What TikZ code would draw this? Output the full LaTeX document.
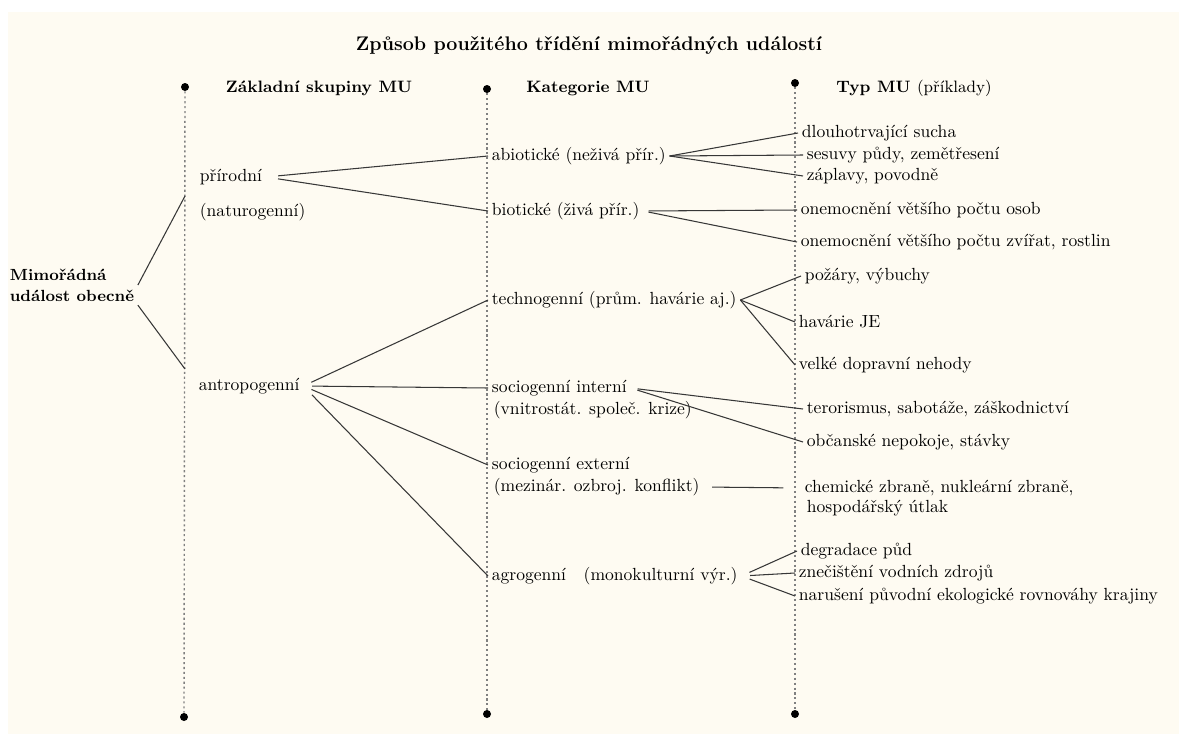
\documentclass[tikz,border=0pt]{standalone}
\usepackage{tikz}
\usetikzlibrary{positioning}
\definecolor{paper}{RGB}{254,251,242}
\definecolor{ink}{RGB}{55,55,55}

\tikzset{
	txt/.style={draw=none, anchor=west, inner sep=2pt, font=\fontsize{10}{12}\selectfont},
	head/.style={draw=none, font=\fontsize{9.4}{11}\selectfont\bfseries},
	dotend/.style={draw=none, circle, fill=black, inner sep=0pt, minimum size=0.16cm},
	axis/.style={draw=gray, dash pattern=on 1.2pt off 1.6pt, line width=0.8pt},
	link/.style={draw=ink, line width=0.6pt},
	gap/.style={shorten <=#1}
}

\begin{document}
\begin{tikzpicture}[x=0.02cm, y=-0.02cm]
	\useasboundingbox (0, 0) rectangle (1179, 734);
	\fill [white] (0, 0) rectangle (1179, 734);
	\fill [paper] (8, 12) rectangle (1179, 734);

	\node [draw=none, font=\fontsize{11.2}{13}\selectfont\bfseries] (title) at (589, 45) {Způsob použitého třídění mimořádných událostí};

	\node [dotend] (T1) at (185, 87) {};
	\node [dotend] (B1) at (184, 717) {};
	\node [dotend] (T2) at (487, 89) {};
	\node [dotend] (B2) at (487, 714) {};
	\node [dotend] (T3) at (795, 83) {};
	\node [dotend] (B3) at (795, 714) {};
	\path [axis] (T1) -- (B1);
	\path [axis] (T2) -- (B2);
	\path [axis] (T3) -- (B3);

	\node [head] (H1) at (319, 88) {Základní skupiny MU};
	\node [head] (H2) at (588, 88) {Kategorie MU};
	\node [head] (H3) at (914, 88) {Typ MU \mdseries(příklady)};

	\node [txt, font=\fontsize{9.2}{12}\selectfont\bfseries, align=left] (mu) at (6, 285) {Mimořádná\\událost obecně};
	\coordinate (A1) at (185, 196);
	\coordinate (A2) at (185, 369);

	\node [txt] (prir) at (196, 177) {přírodní};
	\node [txt] (natur) at (196, 212) {(naturogenní)};
	\node [txt] (antr) at (195, 386) {antropogenní};

	\node [txt] (abio) at (488, 156) {abiotické (neživá přír.)};
	\node [txt] (bio) at (488, 211) {biotické (živá přír.)};
	\node [txt] (tech) at (488, 300) {technogenní (prům. havárie aj.)};
	\node [txt] (sint) at (488, 388) {sociogenní interní};
	\node [txt] (sint2) at (490, 410) {(vnitrostát. společ. krize)};
	\node [txt] (sext) at (488, 465) {sociogenní externí};
	\node [txt] (sext2) at (490, 487) {(mezinár. ozbroj. konflikt)};
	\node [txt] (agro) at (488, 576) {agrogenní\ \ \ (monokulturní výr.)};

	\node [txt] (sucha) at (798, 133) {dlouhotrvající sucha};
	\node [txt] (sesuv) at (803, 155) {sesuvy půdy, zemětřesení};
	\node [txt] (zapl) at (803, 176) {záplavy, povodně};
	\node [txt] (osob) at (797, 210) {onemocnění většího počtu osob};
	\node [txt] (zvir) at (797, 242) {onemocnění většího počtu zvířat, rostlin};
	\node [txt] (poz) at (801, 276) {požáry, výbuchy};
	\node [txt] (je) at (795, 322) {havárie JE};
	\node [txt] (dopr) at (795, 365) {velké dopravní nehody};
	\node [txt] (teror) at (803, 409) {terorismus, sabotáže, záškodnictví};
	\node [txt] (nepok) at (803, 442) {občanské nepokoje, stávky};
	\node [txt] (zbran) at (801, 488) {chemické zbraně, nukleární zbraně,};
	\node [txt] (utlak) at (803, 508) {hospodářský útlak};
	\node [txt] (pud) at (797, 551) {degradace půd};
	\node [txt] (voda) at (795, 573) {znečištění vodních zdrojů};
	\node [txt] (krajina) at (795, 596) {narušení původní ekologické rovnováhy krajiny};

	\path [link] (mu.east) -- (A1);
	\path [link] (mu.south east) -- (A2);
	\path [link, gap=7pt] (prir.east) -- (abio.west);
	\path [link, gap=7pt] (prir.east) -- (bio.west);
	\path [link, gap=5pt] (antr.east) -- (tech.west);
	\path [link, gap=5pt] (antr.east) -- (sint.west);
	\path [link, gap=5pt] (antr.east) -- (sext.west);
	\path [link, gap=7pt] (antr.east) -- (agro.west);
	\path [link] (abio.east) -- (sucha.west);
	\path [link] (abio.east) -- (sesuv.west);
	\path [link] (abio.east) -- (zapl.west);
	\path [link, gap=3pt] (bio.east) -- (osob.west);
	\path [link, gap=3pt] (bio.east) -- (zvir.west);
	\path [link] (tech.east) -- (poz.west);
	\path [link] (tech.east) -- (je.west);
	\path [link] (tech.east) -- (dopr.west);
	\path [link, gap=4pt] (sint.east) -- (teror.west);
	\path [link, gap=4pt] (sint.east) -- (nepok.west);
	\path [link, gap=5pt, shorten >=10pt] (sext2.east) -- (zbran.west);
	\path [link, gap=5pt] (agro.east) -- (pud.west);
	\path [link, gap=5pt] (agro.east) -- (voda.west);
	\path [link, gap=5pt] (agro.east) -- (krajina.west);
\end{tikzpicture}
\end{document}
